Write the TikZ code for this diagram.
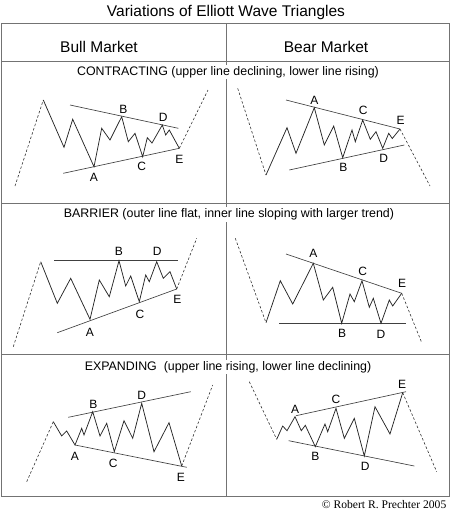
\documentclass[tikz,border=0pt]{standalone}
\usepackage{fontspec}
\setmainfont{Liberation Sans}
\newfontfamily\serifcr{Liberation Serif}
\begin{document}
\begin{tikzpicture}[x=1pt,y=-1pt,
  frameline/.style={draw=black!55, line width=0.8pt},
  wave/.style={draw=black!85, line width=0.75pt, line join=miter},
  trend/.style={draw=black!75, line width=0.65pt},
  dashline/.style={draw=black!80, line width=0.6pt, dash pattern=on 2.5pt off 2pt},
  lbl/.style={inner sep=0pt, font=\fontsize{12}{12}\selectfont},
  sect/.style={inner sep=1.5pt, fill=white, font=\fontsize{12.4}{14}\selectfont},
  head/.style={inner sep=0pt, font=\fontsize{15.5}{17}\selectfont}]
\useasboundingbox (0,0) rectangle (453,520);
% frame
\coordinate (f1) at (1,23); \coordinate (f2) at (449,496);
\draw[frameline] (f1) rectangle (f2);
\coordinate (h1l) at (1,61); \coordinate (h1r) at (449,61);
\coordinate (h2l) at (1,203); \coordinate (h2r) at (449,203);
\coordinate (h3l) at (1,354); \coordinate (h3r) at (449,354);
\coordinate (vt) at (226.5,23); \coordinate (vb) at (226.5,496);
\draw[frameline] (h1l) -- (h1r);
\draw[frameline] (h2l) -- (h2r);
\draw[frameline] (h3l) -- (h3r);
\draw[frameline] (vt) -- (vb);
% titles
\node[head] (title) at (226,12.5) {Variations of Elliott Wave Triangles};
\node[head] (bull) at (99,46.5) {Bull Market};
\node[head] (bear) at (326,46.5) {Bear Market};
\node[sect] (s1t) at (228,72) {CONTRACTING (upper line declining, lower line rising)};
\node[sect] (s2t) at (229,214.5) {BARRIER (outer line flat, inner line sloping with larger trend)};
\node[sect] (s3t) at (228,367) {EXPANDING\ \ (upper line rising, lower line declining)};
\node[inner sep=0pt, anchor=east, font=\serifcr\fontsize{11.6}{13}\selectfont] (copy) at (446.5,505) {\textcopyright\ Robert R. Prechter 2005};

% ---------- Panel 1: bull contracting
\coordinate (s1) at (43.3,100); \coordinate (A1) at (94,166.7); \coordinate (B1) at (121.7,116.7);
\coordinate (C1) at (142.7,156.7); \coordinate (D1) at (162.3,125); \coordinate (E1) at (179.3,148.3);
\coordinate (p1a) at (15,186); \coordinate (p1b) at (208,90);
\coordinate (u1a) at (70,105); \coordinate (u1b) at (178.3,128.3); \coordinate (l1a) at (63.3,173.3);
\draw[dashline] (p1a) -- (s1);
\draw[dashline] (E1) -- (p1b);
\draw[trend] (u1a) -- (u1b);
\draw[trend] (l1a) -- (E1);
\draw[wave] (s1) -- (64,147.3) -- (72.7,119.3) -- (A1) -- (101.7,128.3) -- (110,140) -- (B1) -- (128.3,141.7) -- (135,133.3) -- (C1) -- (147.3,137.7) -- (152,143) -- (D1) -- (165.7,135) -- (169.3,130) -- (E1);
\node[lbl] (lA1) at (94,177.5) {A};
\node[lbl] (lB1) at (123.3,109.3) {B};
\node[lbl] (lC1) at (141.7,166.5) {C};
\node[lbl] (lD1) at (163.3,117.3) {D};
\node[lbl] (lE1) at (179.5,159.3) {E};

% ---------- Panel 2: bear contracting
\coordinate (s2) at (266,175); \coordinate (A2) at (314.3,107.7); \coordinate (B2) at (342.7,157.7);
\coordinate (C2) at (362.7,120); \coordinate (D2) at (382.7,148.3); \coordinate (E2) at (400,129);
\coordinate (p2a) at (237.7,88.3); \coordinate (p2b) at (430,186);
\coordinate (u2a) at (286,100); \coordinate (l2a) at (289.3,170); \coordinate (l2b) at (404.3,145);
\draw[dashline] (p2a) -- (s2);
\draw[dashline] (E2) -- (p2b);
\draw[trend] (u2a) -- (E2);
\draw[trend] (l2a) -- (l2b);
\draw[wave] (s2) -- (287,127.7) -- (296,153.3) -- (A2) -- (324.3,145) -- (333.7,126) -- (B2) -- (352,130) -- (355.3,141.7) -- (C2) -- (370.3,139.3) -- (376,131.7) -- (D2) -- (388.7,133.3) -- (392.3,138.5) -- (E2);
\node[lbl] (lA2) at (314.3,100) {A};
\node[lbl] (lB2) at (343.3,167.5) {B};
\node[lbl] (lC2) at (363.3,110.7) {C};
\node[lbl] (lD2) at (383.7,158.3) {D};
\node[lbl] (lE2) at (400.5,120.7) {E};

% ---------- Panel 3: bull barrier
\coordinate (s3) at (40.7,261.7); \coordinate (A3) at (90,319.3); \coordinate (B3) at (119,260.7);
\coordinate (C3) at (139.3,301.7); \coordinate (D3) at (156.7,261.7); \coordinate (E3) at (176.7,289);
\coordinate (p3a) at (13.3,346.7); \coordinate (p3b) at (196.7,238.3);
\coordinate (u3a) at (54,260.7); \coordinate (u3b) at (178.3,260.7); \coordinate (l3a) at (57.3,332.7);
\draw[dashline] (p3a) -- (s3);
\draw[dashline] (E3) -- (p3b);
\draw[trend] (u3a) -- (u3b);
\draw[trend] (l3a) -- (E3);
\draw[wave] (s3) -- (57.3,303.3) -- (70.7,278.3) -- (A3) -- (99.3,280) -- (109.3,296.7) -- (B3) -- (125.7,286) -- (130.7,276) -- (C3) -- (145.7,275) -- (149.3,281.7) -- (D3) -- (163.3,278.3) -- (170,271.7) -- (E3);
\node[lbl] (lA3) at (90,332.7) {A};
\node[lbl] (lB3) at (119,251.7) {B};
\node[lbl] (lC3) at (140,314) {C};
\node[lbl] (lD3) at (157.3,251.7) {D};
\node[lbl] (lE3) at (177.3,299.3) {E};

% ---------- Panel 4: bear barrier
\coordinate (s4) at (266,322.7); \coordinate (A4) at (313.3,263.3); \coordinate (B4) at (341.7,323.3);
\coordinate (C4) at (362,280.7); \coordinate (D4) at (381,323.3); \coordinate (E4) at (401.7,293.3);
\coordinate (p4a) at (235.3,238.3); \coordinate (p4b) at (422,343.3);
\coordinate (u4a) at (286,254); \coordinate (l4a) at (279.3,323.3); \coordinate (l4b) at (406,323.3);
\draw[dashline] (p4a) -- (s4);
\draw[dashline] (E4) -- (p4b);
\draw[trend] (u4a) -- (E4);
\draw[trend] (l4a) -- (l4b);
\draw[wave] (s4) -- (280.3,280.7) -- (292.7,304) -- (A4) -- (323.3,300) -- (332.7,287.3) -- (B4) -- (350,294) -- (354.3,301.7) -- (C4) -- (369.3,307.3) -- (373.3,298.3) -- (D4) -- (389.3,300) -- (392.7,306) -- (E4);
\node[lbl] (lA4) at (313.3,253.3) {A};
\node[lbl] (lB4) at (342,333.3) {B};
\node[lbl] (lC4) at (362.7,271) {C};
\node[lbl] (lD4) at (381,334) {D};
\node[lbl] (lE4) at (402,283.3) {E};

% ---------- Panel 5: bull expanding
\coordinate (s5) at (53.3,421.7); \coordinate (A5) at (75,445); \coordinate (B5) at (92.7,411.7);
\coordinate (C5) at (114.3,451.7); \coordinate (D5) at (141.7,403.3); \coordinate (E5) at (181.7,466);
\coordinate (p5a) at (26.7,481.7); \coordinate (p5b) at (212.7,385);
\coordinate (u5a) at (68.3,417.3); \coordinate (u5b) at (190.7,391.7); \coordinate (l5b) at (186.7,467.3);
\draw[dashline] (p5a) -- (s5);
\draw[dashline] (E5) -- (p5b);
\draw[trend] (u5a) -- (u5b);
\draw[trend] (A5) -- (l5b);
\draw[wave] (s5) -- (61.7,436) -- (66.7,431) -- (A5) -- (81.7,428.3) -- (84,435) -- (B5) -- (100,436) -- (106.7,423.3) -- (C5) -- (124,420.7) -- (132.7,438.3) -- (D5) -- (154,451.7) -- (169,422.7) -- (E5);
\node[lbl] (lA5) at (75,456) {A};
\node[lbl] (lB5) at (93.3,404) {B};
\node[lbl] (lC5) at (113.3,463.3) {C};
\node[lbl] (lD5) at (141.7,395) {D};
\node[lbl] (lE5) at (181,477.7) {E};

% ---------- Panel 6: bear expanding
\coordinate (s6) at (276.7,439.3); \coordinate (A6) at (295,416.7); \coordinate (B6) at (315.3,446.7);
\coordinate (C6) at (336,408.3); \coordinate (D6) at (364.3,456); \coordinate (E6) at (402.7,392.7);
\coordinate (p6a) at (249.3,381.7); \coordinate (p6b) at (436.7,471.7);
\coordinate (u6a) at (296,415.7); \coordinate (u6b) at (406,391.7);
\coordinate (l6a) at (288.7,440.7); \coordinate (l6b) at (414.3,466);
\draw[dashline] (p6a) -- (s6);
\draw[dashline] (E6) -- (p6b);
\draw[trend] (u6a) -- (u6b);
\draw[trend] (l6a) -- (l6b);
\draw[wave] (s6) -- (282.7,426) -- (287,430.7) -- (A6) -- (301.3,430.7) -- (305.3,425.3) -- (B6) -- (325,424) -- (327.7,431.7) -- (C6) -- (344.3,438.3) -- (354.3,418.3) -- (D6) -- (375,406.7) -- (390,434) -- (E6);
\node[lbl] (lA6) at (295,409.3) {A};
\node[lbl] (lB6) at (315.3,456.7) {B};
\node[lbl] (lC6) at (336,399.3) {C};
\node[lbl] (lD6) at (365.3,466.7) {D};
\node[lbl] (lE6) at (402,384) {E};
\end{tikzpicture}
\end{document}
